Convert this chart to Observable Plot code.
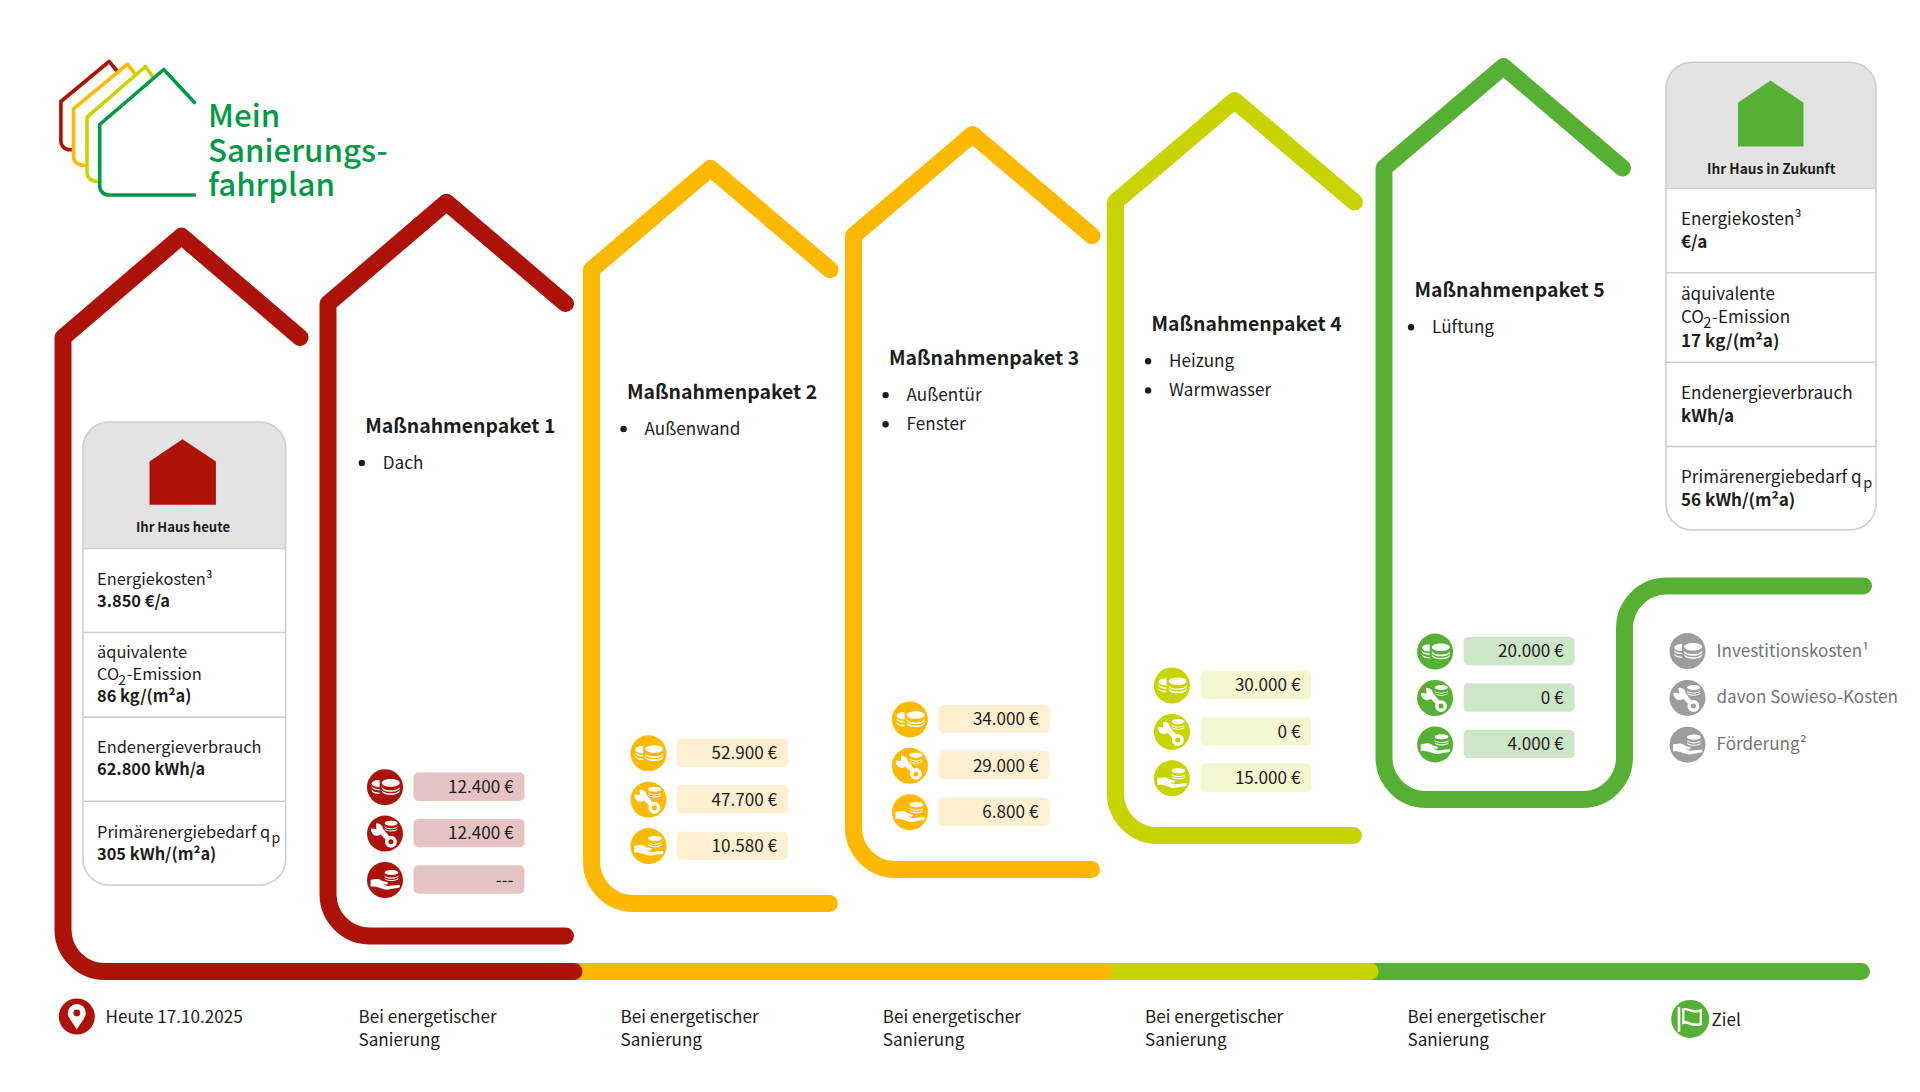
<!DOCTYPE html>
<html lang="de"><head><meta charset="utf-8"><title>Mein Sanierungsfahrplan</title>
<script src="https://cdn.jsdelivr.net/npm/d3@7"></script>
<script src="https://cdn.jsdelivr.net/npm/@observablehq/plot@0.6"></script>
<style>html,body{margin:0;padding:0;background:#fff;overflow:hidden}svg{display:block;max-width:none}</style>
</head><body><div id="chart"></div>
<script>
// ---- data ----
const packageTitles = ["Maßnahmenpaket 1","Maßnahmenpaket 2","Maßnahmenpaket 3","Maßnahmenpaket 4","Maßnahmenpaket 5"];
const packageItems = [["Dach"],["Außenwand"],["Außentür","Fenster"],["Heizung","Warmwasser"],["Lüftung"]];
const investment = [12400,52900,34000,30000,20000];
const sowieso = [12400,47700,29000,0,0];
const funding = [null,10580,6800,15000,4000];
const legendLabels = ["Investitionskosten¹","davon Sowieso-Kosten","Förderung²"];
const logoLines = ["Mein","Sanierungs-","fahrplan"];
const todayValues = {title:"Ihr Haus heute",cost:"3.850 €/a",co2:"86 kg/(m²a)",end:"62.800 kWh/a",prim:"305 kWh/(m²a)"};
const futureValues = {title:"Ihr Haus in Zukunft",cost:"€/a",co2:"17 kg/(m²a)",end:"kWh/a",prim:"56 kWh/(m²a)"};
const stepLabel = ["Bei energetischer","Sanierung"];
const todayLabel = "Heute 17.10.2025";
const goalLabel = "Ziel";

// ---- styles and layout ----
const RED="#AD1208",YEL="#FDB900",LIME="#C8D400",GRN="#55B033",LOGO="#009A44",INK="#1d1d1b";
const colors=[RED,RED,YEL,YEL,LIME,GRN];
const pale=["#E6C3C3","#FDEFCF","#FDEFCF","#F3F6CF","#CEE6C8"];
const FONT='"Noto Sans CJK SC","Source Sans Pro","Noto Sans",sans-serif';
const STEP=33.9, FS=17.1;
const houseLeft=[62.5,327.5,591,853,1115,1383.5];
const houseApex=[181,446,710,972,1234,1503];
const houseEnd=[299.5,565,829.5,1091.5,1354,1622];
const houseBottom=[971,935.6,903,869,835,799];
const bottomEnd=[573.5,565,829,1091,1353];
const iconX=[384.5,648,909.4,1171.4,1434.6];
const titleX=[364.7,626.5,888.5,1151,1414];
const stepX=[358,620,882.3,1144.6,1407];
const eave=i=>337-i*STEP, apex=i=>235.6-i*STEP;

const marks=[];
const sharp=(pts,stroke,sw,r=42)=>Plot.line(pts,{x:d=>d[0],y:d=>d[1],stroke,strokeWidth:sw,curve:rounded(r),strokeLinecap:"round",strokeLinejoin:"round"});
function rounded(r){return ctx=>{let p;return{areaStart(){},areaEnd(){},lineStart(){p=[]},point(x,y){p.push([+x,+y])},lineEnd(){
  ctx.moveTo(p[0][0],p[0][1]);
  for(let i=1;i<p.length-1;i++){
    const a=p[i-1],b=p[i],c=p[i+1];
    const ax=(a[0]===b[0]||a[1]===b[1])&&(c[0]===b[0]||c[1]===b[1]);
    if(ax)ctx.arcTo(b[0],b[1],c[0],c[1],r);else ctx.lineTo(b[0],b[1]);
  }
  const l=p[p.length-1];ctx.lineTo(l[0],l[1]);}}}}
const text=(rows,o)=>Plot.text(rows,{x:"x",y:"y",text:"t",lineAnchor:"bottom",textAnchor:"start",fontFamily:FONT,fill:INK,...o});

// icon glyphs, as symbols on a unit circle
const glyph=f=>({draw(c,size){f(c,Math.sqrt(size/Math.PI));}});
const K=0.5523;
function ell(c,x,y,a,b){c.moveTo(x-a,y);c.bezierCurveTo(x-a,y-K*b,x-K*a,y-b,x,y-b);c.bezierCurveTo(x+K*a,y-b,x+a,y-K*b,x+a,y);c.bezierCurveTo(x+a,y+K*b,x+K*a,y+b,x,y+b);c.bezierCurveTo(x-K*a,y+b,x-a,y+K*b,x-a,y);c.closePath();}
function band(c,x,y,a,b,h){c.moveTo(x-a,y);c.bezierCurveTo(x-a,y+K*b,x-K*a,y+b,x,y+b);c.bezierCurveTo(x+K*a,y+b,x+a,y+K*b,x+a,y);c.lineTo(x+a,y+h);c.bezierCurveTo(x+a,y+h+K*b,x+K*a,y+h+b,x,y+h+b);c.bezierCurveTo(x-K*a,y+h+b,x-a,y+h+K*b,x-a,y+h);c.closePath();}
function halfTop(c,x,y,a,b){c.moveTo(x,y-b);c.bezierCurveTo(x-K*a,y-b,x-a,y-K*b,x-a,y);c.bezierCurveTo(x-a,y+K*b,x-K*a,y+b,x,y+b);c.closePath();}
function halfBand(c,x,y,a,b,h){c.moveTo(x-a,y);c.bezierCurveTo(x-a,y+K*b,x-K*a,y+b,x,y+b);c.lineTo(x,y+b+h);c.bezierCurveTo(x-K*a,y+h+b,x-a,y+h+K*b,x-a,y+h);c.closePath();}
function stack(c,x,y,a,b,n,h,g){ell(c,x,y,a,b);for(let i=0;i<n;i++)band(c,x,y+b*.55+g+i*(h+g+.03),a,b,h);}
const coins=glyph((c,r)=>{
  const s=v=>v*r;
  halfTop(c,s(-.3),s(-.2),s(.44),s(.2));
  halfBand(c,s(-.3),s(-.1),s(.44),s(.2),s(.08));
  halfBand(c,s(-.3),s(.1),s(.44),s(.2),s(.08));
  stack(c,s(.32),s(-.24),s(.5),s(.21),2,s(.09),s(.08));
});
const wrench=glyph((c,r)=>{
  const s=v=>v*r;
  stack(c,s(.34),s(-.58),s(.36),s(.14),2,s(.05),s(.07));
  const hx=s(-.44),hy=s(-.22),hr=s(.34);
  const a0=-Math.PI*3/4;
  c.moveTo(hx+Math.cos(a0+.6)*hr,hy+Math.sin(a0+.6)*hr);
  c.arc(hx,hy,hr,a0+.6,a0-.6+2*Math.PI);
  c.lineTo(hx+Math.cos(a0)*hr*.15,hy+Math.sin(a0)*hr*.15);
  c.closePath();
  c.moveTo(s(-.34),s(-.06));c.lineTo(s(-.16),s(-.34+.02));c.lineTo(s(.28),s(.2));c.lineTo(s(.08),s(.38));c.closePath();
  const qx=s(.33),qy=s(.45);
  c.moveTo(qx+s(.33),qy);c.arc(qx,qy,s(.33),0,2*Math.PI);
  c.moveTo(qx+s(.14),qy);c.arc(qx,qy,s(.14),0,-2*Math.PI,true);
});
const hand=glyph((c,r)=>{
  const s=v=>v*r;
  stack(c,s(.36),s(-.42),s(.38),s(.14),2,s(.06),s(.07));
  c.moveTo(s(-.8),s(-.02));
  c.lineTo(s(-.5),s(-.05));
  c.bezierCurveTo(s(-.3),s(-.1),s(-.2),s(.05),s(-.05),s(.08));
  c.lineTo(s(.18),s(.14));c.lineTo(s(.12),s(.26));c.lineTo(s(-.12),s(.2));c.lineTo(s(.1),s(.34));
  c.lineTo(s(.82),s(.26));c.lineTo(s(.82),s(.42));
  c.lineTo(s(.1),s(.54));
  c.bezierCurveTo(s(-.2),s(.5),s(-.4),s(.34),s(-.8),s(.36));
  c.closePath();
});
const pin=glyph((c,r)=>{
  const s=v=>v*r;
  c.moveTo(s(0),s(.72));
  c.bezierCurveTo(s(-.2),s(.35),s(-.5),s(.1),s(-.5),s(-.2));
  c.arc(0,s(-.2),s(.5),Math.PI,0);
  c.bezierCurveTo(s(.5),s(.1),s(.2),s(.35),s(0),s(.72));
  c.closePath();
  c.moveTo(s(.19),s(-.2));c.arc(0,s(-.2),s(.19),0,-2*Math.PI,true);
});
const flag=glyph((c,r)=>{
  const s=v=>v*r;
  c.rect(s(-.66),s(-.62),s(.14),s(1.3));
  c.moveTo(s(-.42),s(-.55));
  c.bezierCurveTo(s(-.15),s(-.68),s(.1),s(-.32),s(.62),s(-.55));
  c.lineTo(s(.62),s(.32));
  c.bezierCurveTo(s(.1),s(.52),s(-.15),s(.14),s(-.42),s(.3));
  c.closePath();
  c.moveTo(s(-.3),s(-.44));c.lineTo(s(-.3),s(.13));
  c.bezierCurveTo(s(-.1),s(.05),s(.15),s(.36),s(.5),s(.2));
  c.lineTo(s(.5),s(-.38));
  c.bezierCurveTo(s(.1),s(-.2),s(-.1),s(-.52),s(-.3),s(-.44));
  c.closePath();
});
function icon(x,y,color,sym,r=18){
  marks.push(Plot.dot([{x,y}],{x:"x",y:"y",r,fill:color,stroke:"none"}));
  marks.push(Plot.dot([{x,y}],{x:"x",y:"y",r,fill:"#fff",stroke:"none",symbol:sym}));
}

// ---- logo ----
[[RED,[[117,71],[108.6,61],[60.4,101],[60.4,149.3],[72,149.3]]],
 [YEL,[[134,72.7],[127,63.7],[73,108.3],[73,164.7],[84,164.7]]],
 [LIME,[[152,76],[145,66],[86.5,116.7],[86.5,180.7],[98,180.7]]],
 [LOGO,[[194,102],[163.3,69],[99.2,124],[99.2,194.5],[194,194.5]]]
].forEach(([col,p])=>marks.push(sharp(p,col,3.6,9)));
marks.push(text(logoLines.map((t,i)=>({t,x:207.5,y:126.7+i*34.3})),{fontSize:31.3,fontWeight:500,fill:LOGO}));

// ---- timeline (drawn back to front so the caps overlap) ----
[[1861,GRN],[1369.5,LIME],[1103,YEL]].forEach(([end,col])=>
  marks.push(sharp([[560,971],[end,971]],col,17)));

// ---- houses ----
[5,4,3,2,1,0].forEach(i=>{
  const L=houseLeft[i],A=houseApex[i],E=houseEnd[i],B=houseBottom[i];
  const roof=[[E,eave(i)],[A,apex(i)],[L,eave(i)],[L,B]];
  if(i===5){ roof.push([1624,B],[1624,585.6],[1863,585.6]); }
  else roof.push([bottomEnd[i],B]);
  marks.push(sharp(roof,colors[i],17));
});

// ---- cards ----
function card(v,c,color){
  const box=(y1,y2,o)=>Plot.rect([{x1:c.x1,x2:c.x2,y1,y2}],{x1:"x1",x2:"x2",y1:"y1",y2:"y2",...o});
  marks.push(box(c.top,c.bot,{fill:"#E3E3E3",rx:26}));
  marks.push(box(c.lines[0],c.bot-30,{fill:"#fff"}));
  marks.push(box(c.lines[0]+30,c.bot,{fill:"#fff",rx:26}));
  marks.push(box(c.top,c.bot,{stroke:"#cfcfcf",strokeWidth:1.6,fill:"none",rx:26}));
  marks.push(Plot.ruleY(c.lines,{x1:c.x1,x2:c.x2,stroke:"#cfcfcf",strokeWidth:1.6}));
  marks.push(Plot.line(c.house.concat([c.house[0]]),{x:d=>d[0],y:d=>d[1],fill:color,stroke:"none"}));
  marks.push(text([{t:v.title,x:c.cx,y:c.titleY}],{textAnchor:"middle",fontSize:c.fs*.8,fontWeight:700}));
  const X=c.tx,b=c.base;
  const reg=[["Energiekosten³",b[0]],["äquivalente",b[2]],["CO",b[3]],["Endenergieverbrauch",b[5]],["Primärenergiebedarf q",b[7]]];
  marks.push(text(reg.map(([t,y])=>({t,x:X,y})),{fontSize:c.fs}));
  marks.push(text([{t:"2",x:X+c.fs*1.3,y:b[3]+c.fs*.28},{t:"p",x:c.px,y:b[7]+c.fs*.28}],{fontSize:c.fs*.85}));
  marks.push(text([{t:"-Emission",x:X+c.fs*1.82,y:b[3]}],{fontSize:c.fs}));
  marks.push(text([[v.cost,b[1]],[v.co2,b[4]],[v.end,b[6]],[v.prim,b[8]]].map(([t,y])=>({t,x:X,y})),{fontSize:c.fs,fontWeight:700}));
}
card(todayValues,{x1:83,x2:285.7,top:422,bot:885,lines:[548,632,716.6,800.7],cx:182.5,titleY:531.6,tx:96.5,px:271,fs:16.4,
  house:[[182,438.7],[215.4,461],[215.4,504.3],[149,504.3],[149,461]],
  base:[584.4,606.2,657.6,679.5,701.2,752.8,774.6,837.6,859.6]},RED);
card(futureValues,{x1:1666,x2:1876,top:62.3,bot:530,lines:[187.7,272.3,361.7,446],cx:1770.7,titleY:173.5,tx:1680.5,px:1862.7,fs:FS,
  house:[[1770,80],[1803,102.3],[1803,146],[1737.5,146],[1737.5,102.3]],
  base:[224.5,247.5,299.5,322.5,346.5,398.2,421.2,482.5,505.5]},GRN);

// ---- packages ----
const euro=v=>v==null?"---":d3.format(",.0f")(v).replace(/,/g,".")+" €";
packageTitles.forEach((t,i)=>{
  const dy=i*STEP;
  marks.push(text([{t,x:titleX[i],y:432.2-dy}],{fontSize:19.4,fontWeight:700}));
  const items=packageItems[i];
  marks.push(Plot.dot(items,{x:()=>titleX[i]-3.4,y:(d,j)=>462.4-dy+j*29.2,r:3.2,fill:INK,stroke:"none"}));
  marks.push(text(items.map((d,j)=>({t:d,x:titleX[i]+17.6,y:468-dy+j*29.2})),{fontSize:FS}));
  [[investment,coins],[sowieso,wrench],[funding,hand]].forEach(([vals,sym],k)=>{
    const cy=786.7+k*46.4-dy, x=iconX[i];
    icon(x,cy,colors[i+1],sym);
    marks.push(Plot.rect([{}],{x1:()=>x+29,x2:()=>x+140,y1:()=>cy-14.2,y2:()=>cy+14.2,fill:pale[i],rx:5}));
    marks.push(text([{t:euro(vals[i]),x:x+128.5,y:cy+5.8}],{textAnchor:"end",fontSize:FS}));
  });
});

// ---- legend ----
[coins,wrench,hand].forEach((sym,k)=>{
  icon(1687,650.6+k*46.8,"#9D9D9D",sym);
});
marks.push(text(legendLabels.map((t,k)=>({t,x:1716,y:656.2+k*46.7})),{fontSize:FS,fill:"#757575"}));

// ---- timeline labels ----
icon(76.3,1016,RED,pin);
marks.push(text([{t:todayLabel,x:105,y:1022.5}],{fontSize:FS}));
stepX.forEach(x=>marks.push(text(stepLabel.map((t,j)=>({t,x,y:1022.5+j*22.8})),{fontSize:FS})));
icon(1689.7,1018.4,GRN,flag,19);
marks.push(text([{t:goalLabel,x:1711,y:1025.8}],{fontSize:FS}));

const chart=Plot.plot({width:1920,height:1092,margin:0,
  x:{domain:[0,1920],axis:null},y:{domain:[1092,0],axis:null},
  style:{background:"#fff",fontFamily:FONT},marks});
document.getElementById("chart").append(chart);
</script></body></html>
